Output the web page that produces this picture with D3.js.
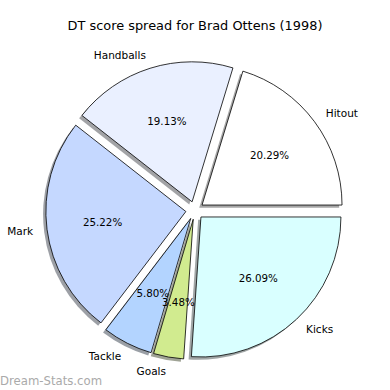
<!DOCTYPE html>
<html>
<head>
<meta charset="utf-8">
<script src="https://cdn.jsdelivr.net/npm/d3@7"></script>
<style>
  body { margin: 0; background: #fff; }
  text { font-family: "DejaVu Sans", sans-serif; fill: #000; }
</style>
</head>
<body>
<svg id="chart" width="390" height="390"></svg>
<script>
// slices in drawing order (counter-clockwise from 3 o'clock)
var labels = ["Hitout", "Handballs", "Mark", "Tackle", "Goals", "Kicks"];
var shares = [20.29, 19.13, 25.22, 5.80, 3.48, 26.09];
var colours = ["#ffffff", "#eaf0ff", "#c5d8ff", "#b3d4ff", "#d1eb8f", "#d9ffff"];
var title = "DT score spread for Brad Ottens (1998)";

var width = 390, height = 390;
var cx = 194.8, cy = 210.4, radius = 140;
var explode = 9;             // px each wedge is pushed out
var shadowOff = 2.8;         // matplotlib shadow (-0.02, -0.02) in radius units

var svg = d3.select("#chart");

svg.append("rect").attr("width", width).attr("height", height).attr("fill", "#fff");

// d3 angles run clockwise from 12 o'clock; start at 3 o'clock, go anticlockwise
var pie = d3.pie()
  .sort(null)
  .value(d => d.v)
  .startAngle(Math.PI / 2)
  .endAngle(Math.PI / 2 - 2 * Math.PI);

var data = labels.map((l, i) => ({label: l, v: shares[i], c: colours[i]}));
var arcs = pie(data);

var arc = d3.arc().innerRadius(0).outerRadius(radius);

function offset(d, dist) {
  var a = (d.startAngle + d.endAngle) / 2;
  return [Math.sin(a) * dist, -Math.cos(a) * dist];
}

var g = svg.append("g").attr("transform", `translate(${cx},${cy})`);

// shadows first (matplotlib puts them under all wedges)
g.selectAll("path.shadow")
  .data(arcs)
  .join("path")
    .attr("class", "shadow")
    .attr("d", arc)
    .attr("transform", d => {
      var o = offset(d, explode);
      return `translate(${o[0] - shadowOff},${o[1] + shadowOff})`;
    })
    .attr("fill", d => {
      var c = d3.rgb(d.data.c);
      return d3.rgb(c.r * 0.3, c.g * 0.3, c.b * 0.3);
    })
    .attr("fill-opacity", 0.5);

// wedges
g.selectAll("path.wedge")
  .data(arcs)
  .join("path")
    .attr("class", "wedge")
    .attr("d", arc)
    .attr("transform", d => {
      var o = offset(d, explode);
      return `translate(${o[0]},${o[1]})`;
    })
    .attr("fill", d => d.data.c)
    .attr("stroke", "#000")
    .attr("stroke-width", 0.8)
    .attr("stroke-linejoin", "round");

// outer labels at 1.1 r
g.selectAll("text.lbl")
  .data(arcs)
  .join("text")
    .attr("class", "lbl")
    .attr("x", d => offset(d, explode)[0] + offset(d, radius * 1.1)[0])
    .attr("y", d => offset(d, explode)[1] + offset(d, radius * 1.1)[1])
    .attr("dy", "0.36em")
    .attr("text-anchor", d => (offset(d, explode)[0] + offset(d, radius * 1.1)[0]) > 0 ? "start" : "end")
    .style("font-size", "10.5px")
    .text(d => d.data.label);

// percentages at 0.6 r
g.selectAll("text.pct")
  .data(arcs)
  .join("text")
    .attr("class", "pct")
    .attr("x", d => offset(d, explode)[0] + offset(d, radius * 0.6)[0])
    .attr("y", d => offset(d, explode)[1] + offset(d, radius * 0.6)[1])
    .attr("dy", "0.36em")
    .attr("text-anchor", "middle")
    .style("font-size", "10.3px")
    .text(d => d.data.v.toFixed(2) + "%");

svg.append("text")
  .attr("x", 195)
  .attr("y", 30)
  .attr("text-anchor", "middle")
  .style("font-size", "12.9px")
  .text(title);

svg.append("text")
  .attr("x", 0)
  .attr("y", 384.5)
  .style("font-size", "11.7px")
  .style("fill", "#aaaaaa")
  .text("Dream-Stats.com");
</script>
</body>
</html>
